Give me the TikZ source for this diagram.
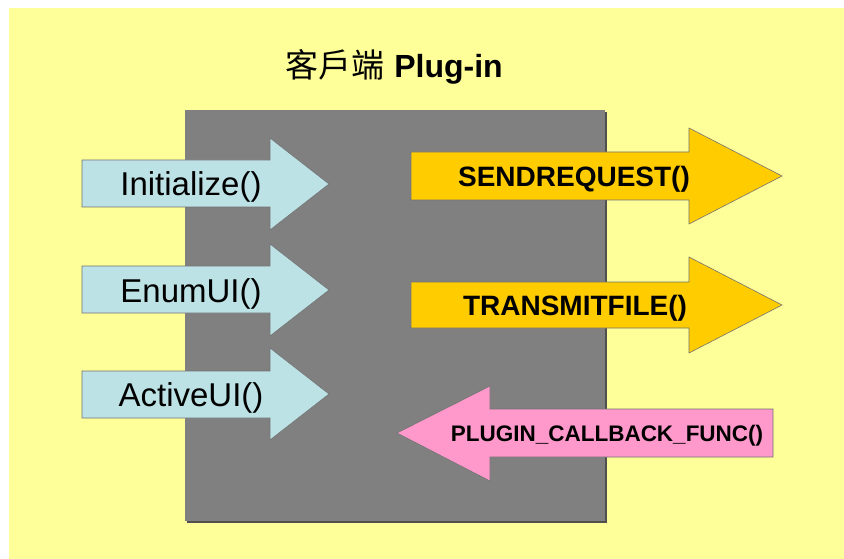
\documentclass[tikz,border=0pt]{standalone}
\usepackage{fontspec}
\setmainfont{Liberation Sans}
\newfontfamily\cjk{Noto Sans CJK TC}
\definecolor{bgyellow}{HTML}{FFFF99}
\definecolor{boxgray}{HTML}{808080}
\definecolor{shadowgray}{HTML}{505050}
\definecolor{lightblue}{HTML}{BCE2E6}
\definecolor{gold}{HTML}{FFCC00}
\definecolor{pink}{HTML}{FF99CC}
\tikzset{
  arrowshape/.style={draw=black!55, line width=0.6pt, line join=miter},
  bluearrow/.style={arrowshape, fill=lightblue},
  goldarrow/.style={arrowshape, fill=gold},
  pinkarrow/.style={arrowshape, fill=pink},
  lefttext/.style={inner sep=0pt, anchor=base, font=\fontsize{33}{36}\selectfont},
  righttext/.style={inner sep=0pt, anchor=base, font=\bfseries\fontsize{28}{32}\selectfont},
  pinktext/.style={inner sep=0pt, anchor=base, font=\bfseries\fontsize{22.5}{26}\selectfont},
}
\begin{document}
\begin{tikzpicture}[x=1pt, y=-1pt]
\useasboundingbox (0,0) rectangle (844,559);
\fill[white] (0,0) rectangle (844,559);
\fill[bgyellow] (9,8) rectangle (844,559);
% title
\node[inner sep=0pt, anchor=base] (title) at (394,78)
  {{\cjk\fontsize{33}{36}\selectfont 客戶端}\hspace{10pt}{\bfseries\fontsize{32}{36}\selectfont Plug-in}};
% central box with shadow
\fill[shadowgray] (187,112) rectangle (607,523);
\fill[boxgray] (185,110) rectangle (605,521);
% left incoming arrows
\draw[bluearrow] (82,160) -- (270,160) -- (270,138) -- (329,184) -- (270,230) -- (270,207) -- (82,207) -- cycle;
\draw[bluearrow] (82,266) -- (270,266) -- (270,244) -- (329,290) -- (270,336) -- (270,313) -- (82,313) -- cycle;
\draw[bluearrow] (82,371) -- (270,371) -- (270,348) -- (329,394) -- (270,440) -- (270,418) -- (82,418) -- cycle;
\node[lefttext] (init) at (191,196) {Initialize()};
\node[lefttext] (enumui) at (191,302) {EnumUI()};
\node[lefttext] (activeui) at (191,406) {ActiveUI()};
% right outgoing arrows
\draw[goldarrow] (411,152) -- (689,152) -- (689,128) -- (782,176) -- (689,224) -- (689,200) -- (411,200) -- cycle;
\draw[goldarrow] (411,282) -- (689,282) -- (689,257) -- (782,305) -- (689,353) -- (689,328) -- (411,328) -- cycle;
\node[righttext] (send) at (574,187) {SENDREQUEST()};
\node[righttext] (transmit) at (575,315) {TRANSMITFILE()};
% callback arrow
\draw[pinkarrow] (773,409) -- (490,409) -- (490,386) -- (397,433) -- (490,481) -- (490,457) -- (773,457) -- cycle;
\node[pinktext] (callback) at (607,441) {PLUGIN\_CALLBACK\_FUNC()};
\end{tikzpicture}
\end{document}
